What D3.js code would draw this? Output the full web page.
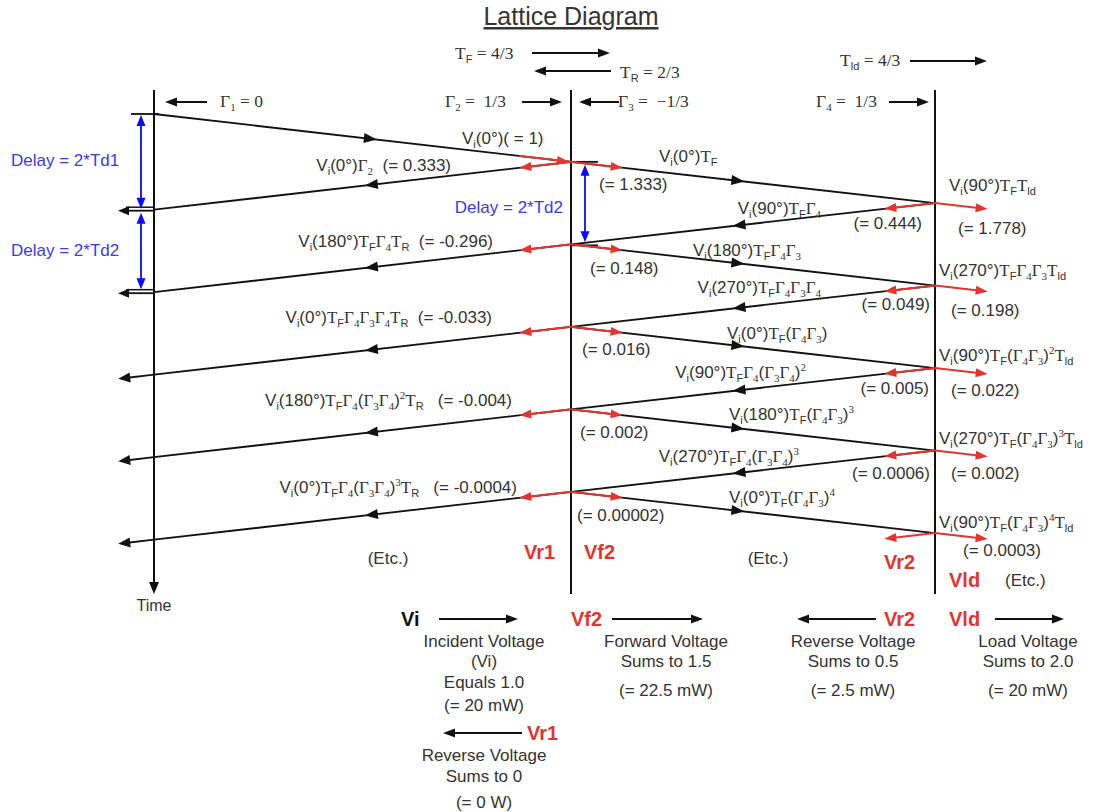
<!DOCTYPE html>
<html>
<head>
<meta charset="utf-8">
<script src="https://cdn.jsdelivr.net/npm/d3@7"></script>
<style>
  body { margin: 0; background: #fff; }
  text { font-family: "Liberation Sans", Arial, sans-serif; fill: #333; white-space: pre; }
</style>
</head>
<body>
<div id="chart"></div>
<script>
// ---- data ----
// one-way delays, in units of Td2
const Td1 = 1.16, Td2 = 1;
// node index: 0 = source end, 1 = junction, 2 = load
const waves = [
  [0, 0,    1, 1.16],
  [1, 1.16, 0, 2.32],
  [1, 1.16, 2, 2.16],
  [2, 2.16, 1, 3.16],
  [1, 3.16, 0, 4.32],
  [1, 3.16, 2, 4.16],
  [2, 4.16, 1, 5.16],
  [1, 5.16, 0, 6.32],
  [1, 5.16, 2, 6.16],
  [2, 6.16, 1, 7.16],
  [1, 7.16, 0, 8.32],
  [1, 7.16, 2, 8.16],
  [2, 8.16, 1, 9.16],
  [1, 9.16, 0, 10.32],
  [1, 9.16, 2, 10.16]
];
const midTimes  = [1.16, 3.16, 5.16, 7.16, 9.16];
const loadTimes = [2.16, 4.16, 6.16, 8.16, 10.16];

const topLabels = ["T_F = 4/3", "T_R = 2/3", "T_{ld} = 4/3", "Γ_1 = 0", "Γ_2 =  1/3", "Γ_3 =  −1/3", "Γ_4 =  1/3"];

const incidentLabel = "V_i(0°)( = 1)";
const leftLabels = [
  "V_i(0°)Γ_2  (= 0.333)",
  "V_i(180°)T_FΓ_4T_R  (= -0.296)",
  "V_i(0°)T_FΓ_4Γ_3Γ_4T_R  (= -0.033)",
  "V_i(180°)T_FΓ_4(Γ_3Γ_4)^2T_R   (= -0.004)",
  "V_i(0°)T_FΓ_4(Γ_3Γ_4)^3T_R   (= -0.0004)"
];
const fwdFormulas = ["V_i(0°)T_F", "V_i(180°)T_FΓ_4Γ_3", "V_i(0°)T_F(Γ_4Γ_3)", "V_i(180°)T_F(Γ_4Γ_3)^3", "V_i(0°)T_F(Γ_4Γ_3)^4"];
const fwdValues   = ["(= 1.333)", "(= 0.148)", "(= 0.016)", "(= 0.002)", "(= 0.00002)"];
const backFormulas = ["V_i(90°)T_FΓ_4", "V_i(270°)T_FΓ_4Γ_3Γ_4", "V_i(90°)T_FΓ_4(Γ_3Γ_4)^2", "V_i(270°)T_FΓ_4(Γ_3Γ_4)^3"];
const backValues   = ["(= 0.444)", "(= 0.049)", "(= 0.005)", "(= 0.0006)"];
const loadFormulas = ["V_i(90°)T_FT_{ld}", "V_i(270°)T_FΓ_4Γ_3T_{ld}", "V_i(90°)T_F(Γ_4Γ_3)^2T_{ld}", "V_i(270°)T_F(Γ_4Γ_3)^3T_{ld}", "V_i(90°)T_F(Γ_4Γ_3)^4T_{ld}"];
const loadValues   = ["(= 1.778)", "(= 0.198)", "(= 0.022)", "(= 0.002)", "(= 0.0003)"];

const legendKeys = ["Vi", "Vf2", "Vr2", "Vld", "Vr1"];
const legendText = [
  ["Incident Voltage", "(Vi)", "Equals 1.0", "(= 20 mW)"],
  ["Forward Voltage", "Sums to 1.5", "(= 22.5 mW)"],
  ["Reverse Voltage", "Sums to 0.5", "(= 2.5 mW)"],
  ["Load Voltage", "Sums to 2.0", "(= 20 mW)"],
  ["Reverse Voltage", "Sums to 0", "(= 0 W)"]
];

// ---- drawing ----
const W = 1095, H = 812;
const SANS = '"Liberation Sans", Arial, sans-serif';
const SERIF = '"Liberation Serif", "Times New Roman", serif';
const RED = "#e3342f", BLUE = "#0a0aff", BLUE_TXT = "#3b3be8", INK = "#111";

const svg = d3.select("#chart").append("svg").attr("width", W).attr("height", H);

const x = d3.scaleLinear().domain([0, 1, 2]).range([154, 571, 935]);
const y = d3.scaleLinear().domain([0, 10]).range([114, 526.5]);
const line = d3.line().x(d => x(d[0])).y(d => y(d[1]));
const topY = 90, bottomY = 594;

// text with _sub, ^sup, serif for T and Γ
function rich(sel, str, allSerif) {
  let shift = 0, i = 0, buf = "", bufSerif = false;
  const put = (txt, kind, serif) => {
    const off = kind === "sub" ? 4 : kind === "sup" ? -7 : 0;
    let fam;
    if (kind) fam = /[A-Za-z]/.test(txt) ? SANS : SERIF;
    else fam = (allSerif || serif) ? SERIF : SANS;
    sel.append("tspan").attr("dy", off - shift).style("font-family", fam)
      .style("font-size", kind ? "11px" : null).text(txt);
    shift = off;
  };
  const flush = () => { if (buf) put(buf, null, bufSerif); buf = ""; };
  while (i < str.length) {
    const c = str[i];
    if (c === "_" || c === "^") {
      flush();
      let g;
      if (str[i + 1] === "{") { const j = str.indexOf("}", i); g = str.slice(i + 2, j); i = j + 1; }
      else { g = str[i + 1]; i += 2; }
      put(g, c === "_" ? "sub" : "sup");
    } else {
      const s = "ΓT".includes(c);
      if (buf && s !== bufSerif) flush();
      if (!buf) bufSerif = s;
      buf += c; i++;
    }
  }
  flush();
  return sel;
}

function label(str, px, py, anchor, opts = {}) {
  const t = svg.append("text").attr("x", px).attr("y", py)
    .attr("text-anchor", anchor || "start")
    .style("font-size", (opts.size || 17) + "px");
  if (opts.color) t.style("fill", opts.color);
  if (opts.bold) t.style("font-weight", "bold");
  if (opts.plain) t.text(str); else rich(t, str, opts.serif);
  return t;
}

function head(px, py, ang, color, len = 12, w = 4.5) {
  const c = Math.cos(ang), s = Math.sin(ang);
  const bx = px - c * len, by = py - s * len;
  svg.append("path")
    .attr("d", `M${px},${py}L${bx - s * w},${by + c * w}L${bx + s * w},${by - c * w}Z`)
    .attr("fill", color);
}

function arrow(x1, y1, x2, y2, color = INK, sw = 1.8, len = 12, w = 4.5) {
  const ang = Math.atan2(y2 - y1, x2 - x1);
  svg.append("line").attr("x1", x1).attr("y1", y1)
    .attr("x2", x2 - Math.cos(ang) * len * 0.6).attr("y2", y2 - Math.sin(ang) * len * 0.6)
    .attr("stroke", color).attr("stroke-width", sw);
  head(x2, y2, ang, color, len, w);
}

function along(P, Q, d) {
  const dx = Q[0] - P[0], dy = Q[1] - P[1], L = Math.hypot(dx, dy);
  return [P[0] + dx / L * d, P[1] + dy / L * d];
}

// title
svg.append("text").attr("x", 571).attr("y", 25).attr("text-anchor", "middle")
  .style("font-size", "25px").style("text-decoration", "underline").style("fill", "#333")
  .text("Lattice Diagram");

// verticals
[1, 2].forEach(n => {
  svg.append("line").attr("x1", x(n)).attr("x2", x(n)).attr("y1", topY).attr("y2", bottomY)
    .attr("stroke", INK).attr("stroke-width", 2);
});
arrow(x(0), topY, x(0), bottomY, INK, 2, 12, 5);
label("Time", x(0), 611, "middle", { plain: true, size: 16 });

// start tick and junction ticks
svg.append("line").attr("x1", x(0) - 23).attr("x2", x(0) + 5).attr("y1", y(0)).attr("y2", y(0))
  .attr("stroke", INK).attr("stroke-width", 1.8);
[0, 1].forEach(k => {
  svg.append("line").attr("x1", x(1)).attr("x2", x(1) + 27)
    .attr("y1", y(midTimes[k]) + k).attr("y2", y(midTimes[k]) + k)
    .attr("stroke", INK).attr("stroke-width", 1.8);
});

// lattice waves
waves.forEach((wv, i) => {
  const [n0, t0, n1, t1] = wv;
  svg.append("path").attr("d", line([[n0, t0], [n1, t1]]))
    .attr("fill", "none").attr("stroke", INK).attr("stroke-width", 1.8);
  // arrowhead part way along
  const leftN = Math.min(n0, n1);
  const f = leftN === 0 ? 0.52 : 0.46;
  const tl = n0 < n1 ? t0 : t1, tr = n0 < n1 ? t1 : t0;
  const hx = x(leftN) + f * (x(leftN + 1) - x(leftN));
  const hy = y(tl) + f * (y(tr) - y(tl));
  const ang = Math.atan2(y(t1) - y(t0), x(n1) - x(n0));
  head(hx + Math.cos(ang) * 6, hy + Math.sin(ang) * 6, ang, INK, 13, 5);
  // run past the source end
  if (n1 === 0) {
    if (t1 < 5) {
      arrow(x(0), y(t1) + 1, x(0) - 36, y(t1) + 1, INK, 1.8, 11, 4.5);
      svg.append("line").attr("x1", x(0) - 28).attr("x2", x(0)).attr("y1", y(t1) - 2.5).attr("y2", y(t1) - 2.5)
        .attr("stroke", INK).attr("stroke-width", 1.5);
    } else {
      const P = [x(0), y(t1)], Q = [x(1), y(t0)];
      const E = along(P, Q, -36);
      arrow(P[0], P[1], E[0], E[1], INK, 1.8, 12, 5);
    }
  }
});

// red arrows at the junction
midTimes.forEach((t, k) => {
  const P = [x(1), y(t)];
  if (k === 0) {
    const S = along(P, [x(0), y(0)], 52);
    svg.append("line").attr("x1", S[0]).attr("y1", S[1]).attr("x2", P[0]).attr("y2", P[1])
      .attr("stroke", RED).attr("stroke-width", 2);
    head(P[0] - 2, P[1], Math.atan2(P[1] - S[1], P[0] - S[0]), RED, 12, 4.5);
  }
  const L = along(P, [x(0), y(t + Td1)], 52);
  arrow(P[0], P[1], L[0], L[1], RED, 2);
  const R = along(P, [x(2), y(t + Td2)], 52);
  arrow(P[0], P[1], R[0], R[1], RED, 2);
});

// red arrows at the load
loadTimes.forEach((t, k) => {
  const P = [x(2), y(t)];
  const L = along(P, [x(1), y(t + Td2)], 51);
  arrow(P[0], P[1], L[0], L[1], RED, 2);
  const from = [x(1), y(midTimes[k])];
  const R = along(P, [2 * P[0] - from[0], 2 * P[1] - from[1]], 53);
  arrow(P[0], P[1], R[0], R[1], RED, 2);
});

// blue delay arrows
function dbl(px, y1, y2) {
  svg.append("line").attr("x1", px).attr("x2", px).attr("y1", y1 + 6).attr("y2", y2 - 6)
    .attr("stroke", BLUE).attr("stroke-width", 1.8);
  head(px, y1, -Math.PI / 2, BLUE, 11, 4.5);
  head(px, y2, Math.PI / 2, BLUE, 11, 4.5);
}
dbl(141, y(0) + 1, y(2 * Td1) - 1);
dbl(141, y(2 * Td1) + 3, y(2 * Td1 + 2 * Td2) - 3);
dbl(585, y(midTimes[0]) + 3, y(midTimes[1]) - 2);
label("Delay = 2*Td1", 11, 166, "start", { plain: true, color: BLUE_TXT });
label("Delay = 2*Td2", 11, 256, "start", { plain: true, color: BLUE_TXT });
label("Delay = 2*Td2", 563, 213, "end", { plain: true, color: BLUE_TXT });

// top legend: transmission / reflection coefficients
const topLayout = [
  { x: 455, y: 59, ar: [532, 53, 610, 53] },
  { x: 620, y: 78, ar: [611, 71, 534, 71] },
  { x: 840, y: 66, ar: [910, 61, 987, 61] },
  { x: 220, y: 107, ar: [207, 102, 165, 102] },
  { x: 445, y: 107, ar: [522, 102, 562, 102] },
  { x: 618, y: 107, ar: [619, 102, 579, 102] },
  { x: 816, y: 107, ar: [889, 102, 929, 102] }
];
topLabels.forEach((s, i) => {
  const L = topLayout[i];
  label(s, L.x, L.y, "start", { serif: true, size: 17.5 });
  arrow(...L.ar, INK, 1.8, 12, 4.5);
});

// wave labels, placed relative to the junction points
const xm = x(1), xl = x(2);
label(incidentLabel, xm - 109, y(midTimes[0]) - 18, "start");
const leftOff = [[-120, 9], [-78, 3], [-79, -4], [-59, -3], [-54, 1]];
leftLabels.forEach((s, k) => label(s, xm + leftOff[k][0], y(midTimes[k]) + leftOff[k][1], "end"));
const fwdOff = [[88, 0], [122, 12], [156, 12], [158, 11], [158, 11]];
const fwdValOff = [[28, 28], [19, 30], [11, 28], [9, 29], [6, 29]];
fwdFormulas.forEach((s, k) => {
  label(s, xm + fwdOff[k][0], y(midTimes[k]) + fwdOff[k][1], "start");
  label(fwdValues[k], xm + fwdValOff[k][0], y(midTimes[k]) + fwdValOff[k][1], "start", { plain: true });
});
const backOff = [[-114, 11], [-114, 7], [-129, 10], [-136, 11]];
const backValOff = [[-13, 26], [-5, 24], [-6, 26], [-5, 28]];
backFormulas.forEach((s, k) => {
  label(s, xl + backOff[k][0], y(loadTimes[k]) + backOff[k][1], "end");
  label(backValues[k], xl + backValOff[k][0], y(loadTimes[k]) + backValOff[k][1], "end", { plain: true });
});
const loadOff = [[14, -12], [4, -10], [4, -7], [4, -7], [4, -5]];
const loadValOff = [[23, 31], [16, 30], [16, 28], [16, 28], [28, 23]];
loadFormulas.forEach((s, k) => {
  label(s, xl + loadOff[k][0], y(loadTimes[k]) + loadOff[k][1], "start");
  label(loadValues[k], xl + loadValOff[k][0], y(loadTimes[k]) + loadValOff[k][1], "start", { plain: true });
});

// region tags
label("(Etc.)", 388, 564, "middle", { plain: true });
label("(Etc.)", 768, 564, "middle", { plain: true });
label("(Etc.)", 1005, 586, "start", { plain: true });
label("Vr1", 524, 559, "start", { plain: true, bold: true, color: RED, size: 20 });
label("Vf2", 584, 559, "start", { plain: true, bold: true, color: RED, size: 20 });
label("Vr2", 884, 569, "start", { plain: true, bold: true, color: RED, size: 20 });
label("Vld", 949, 587, "start", { plain: true, bold: true, color: RED, size: 20 });

// bottom legend
const legendLayout = [
  { kx: 401, ky: 626, ar: [439, 619, 518, 619], cx: 484, ys: [647, 667, 688, 711], kc: INK },
  { kx: 571, ky: 626, ar: [612, 619, 703, 619], cx: 666, ys: [647, 667, 696], kc: RED },
  { kx: 884, ky: 626, ar: [876, 619, 797, 619], cx: 853, ys: [647, 667, 696], kc: RED },
  { kx: 949, ky: 626, ar: [995, 619, 1064, 619], cx: 1028, ys: [647, 667, 696], kc: RED },
  { kx: 527, ky: 740, ar: [522, 733, 443, 733], cx: 484, ys: [761, 782, 808], kc: RED }
];
legendKeys.forEach((k, i) => {
  const L = legendLayout[i];
  label(k, L.kx, L.ky, "start", { plain: true, bold: true, color: L.kc, size: 20 });
  arrow(...L.ar, INK, 1.8, 12, 4.5);
  legendText[i].forEach((s, j) => label(s, L.cx, L.ys[j], "middle", { plain: true }));
});
</script>
</body>
</html>
